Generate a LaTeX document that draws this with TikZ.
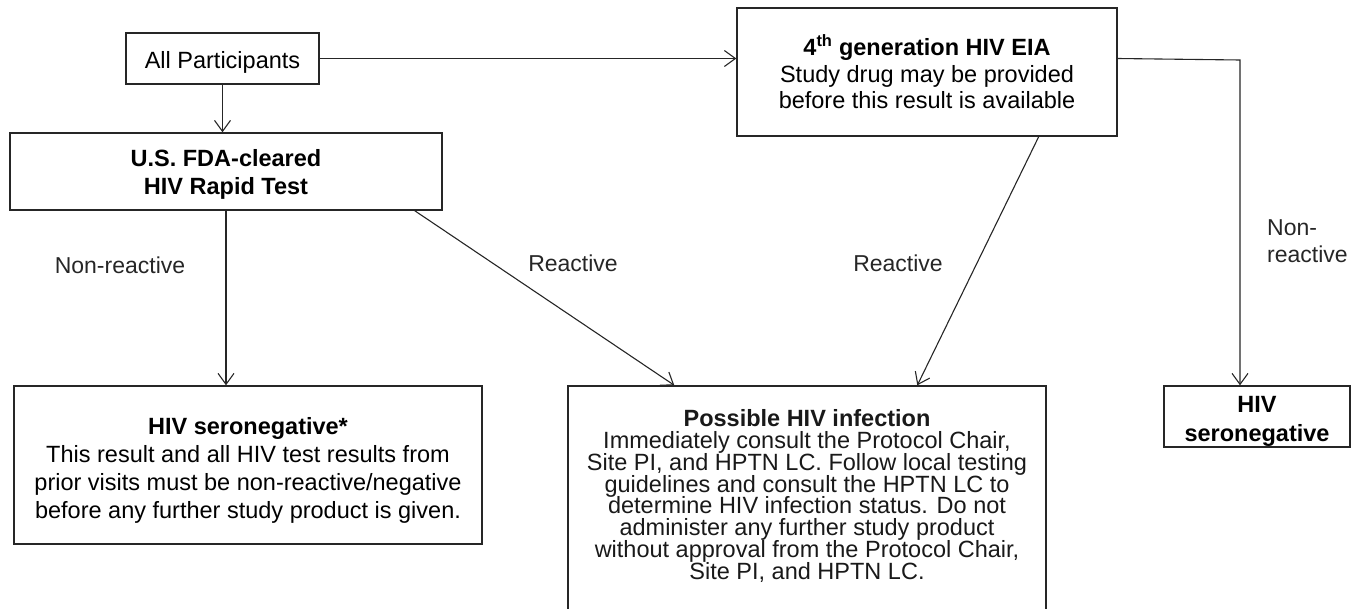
\documentclass[tikz,border=0pt]{standalone}
\usepackage{fontspec}
\setmainfont{Liberation Sans}
\usetikzlibrary{arrows.meta}
\newcommand\mytightlines{\lineskiplimit=-20pt\relax}
\begin{document}
\begin{tikzpicture}[x=1pt,y=-1pt,
  box/.style={draw=black!85, line width=1.4pt, inner sep=0pt, align=center,
    font=\fontsize{23.5}{28}\selectfont},
  conn/.style={draw=black!85, line width=1.1pt,
    -{Straight Barb[length=11pt,width=16pt,line width=1.1pt]}},
  lbl/.style={font=\fontsize{23}{27}\selectfont, inner sep=0pt, text=black!85}]
\useasboundingbox (0,0) rectangle (1362,608);
\clip (0,0) rectangle (1362,608);
% boxes
\node[box, minimum width=193pt, minimum height=51pt] (ap) at (222.5,58.5)
  {\rule{0pt}{25pt}All Participants};
\node[box, minimum width=432pt, minimum height=77pt] (fda) at (226,171.5)
  {\rule{0pt}{23.5pt}\textbf{U.S. FDA-cleared}\\\textbf{HIV Rapid Test}};
\node[box, minimum width=380pt, minimum height=128pt,
  font=\fontsize{23.5}{26.5}\selectfont] (eia) at (927,72)
  {\textbf{4\textsuperscript{th} generation HIV EIA}\\Study drug may be provided\\before this result is available};
\node[box, minimum width=468pt, minimum height=158pt] (seroL) at (248,465)
  {\rule{0pt}{28pt}\textbf{HIV seronegative*}\\This result and all HIV test results from\\prior visits must be non-reactive/negative\\before any further study product is given.};
\node[box, minimum width=478pt, minimum height=228pt] (poss) at (807,500) {};
\node[inner sep=0pt, align=center, text=black!90,
  font={\fontsize{23.5}{21.9}\selectfont\mytightlines}] (posstext) at (807,496)
  {\textbf{Possible HIV infection}\\Immediately consult the Protocol Chair,\\Site PI, and HPTN LC. Follow local testing\\guidelines and consult the HPTN LC to\\determine HIV infection status. Do not\\administer any further study product\\without approval from the Protocol Chair,\\Site PI, and HPTN LC.};
\node[box, minimum width=186pt, minimum height=61pt,
  font=\fontsize{23.5}{29}\selectfont] (seroR) at (1257,416.5)
  {\rule{0pt}{25pt}\textbf{HIV}\\\textbf{seronegative}};
% corner
\coordinate (c1) at (1240,60);
% connectors
\draw[conn] (ap.south) -- (ap.south |- fda.north);
\draw[conn] (ap.east) -- (ap.east -| eia.west);
\draw[conn] (ap.east -| eia.east) -- (c1) -- (c1 |- seroR.north);
\draw[conn] (fda.south) -- (fda.south |- seroL.north);
\draw[conn] ([xshift=-28pt]fda.south east) -- ([xshift=107pt]poss.north west);
\draw[conn] ([xshift=-79pt]eia.south east) -- ([xshift=350pt]poss.north west);
% labels
\node[lbl] (l1) at (120,265) {Non-reactive};
\node[lbl] (l2) at (573,263) {Reactive};
\node[lbl] (l3) at (898,263) {Reactive};
\node[lbl, align=left, anchor=west] (l4) at (1267,241.5) {Non-\\reactive};
\end{tikzpicture}
\end{document}
